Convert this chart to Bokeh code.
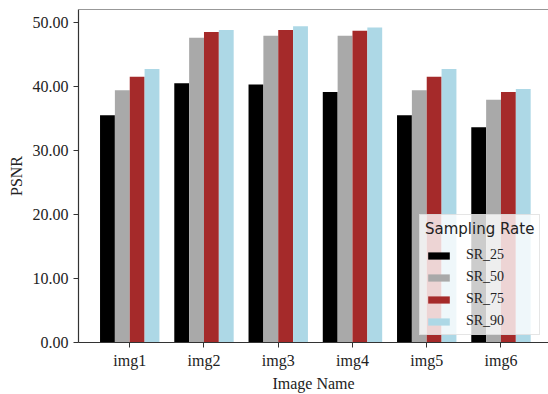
from bokeh.plotting import figure
from bokeh.models import (ColumnDataSource, FixedTicker, Legend, LegendItem, Span,
                          Range1d, PrintfTickFormatter)
from bokeh.transform import dodge
from bokeh.embed import file_html
from bokeh.resources import INLINE

images = ["img1", "img2", "img3", "img4", "img5", "img6"]
sr_25 = [35.5, 40.5, 40.3, 39.1, 35.5, 33.6]
sr_50 = [39.4, 47.6, 47.9, 47.9, 39.4, 37.9]
sr_75 = [41.5, 48.5, 48.8, 48.7, 41.5, 39.1]
sr_90 = [42.7, 48.8, 49.4, 49.2, 42.7, 39.6]
series_names = ["SR_25", "SR_50", "SR_75", "SR_90"]
colors = ["black", "darkgray", "brown", "lightblue"]
y_ticks = [0, 10, 20, 30, 40, 50]

x_idx = list(range(len(images)))
src = ColumnDataSource(dict(x=x_idx, SR_25=sr_25, SR_50=sr_50, SR_75=sr_75, SR_90=sr_90))

p = figure(width=548, height=394, x_range=Range1d(-0.69, 5.64), y_range=Range1d(0, 52),
           toolbar_location=None, output_backend="svg",
           min_border_left=78, min_border_right=0, min_border_top=9, min_border_bottom=50)
p.outline_line_color = None
p.xgrid.visible = False
p.ygrid.visible = False

bar_w = 0.2
offsets = [-0.3, -0.1, 0.1, 0.3]
items = []
for name, c, off in zip(series_names, colors, offsets):
    r = p.vbar(x=dodge("x", off, range=p.x_range), top=name, width=bar_w, source=src,
               fill_color=c, line_color=None)
    items.append(LegendItem(label=name, renderers=[r]))

axis_col = "#333333"
text_col = "#222222"
serif = "Liberation Serif"

p.xaxis.ticker = FixedTicker(ticks=x_idx)
p.xaxis.major_label_overrides = {i: n for i, n in zip(x_idx, images)}
p.yaxis.ticker = FixedTicker(ticks=y_ticks)
p.yaxis.formatter = PrintfTickFormatter(format="%.2f")

for ax in (p.xaxis[0], p.yaxis[0]):
    ax.axis_line_color = axis_col
    ax.axis_line_width = 1.2
    ax.major_tick_line_color = axis_col
    ax.major_tick_out = 5
    ax.major_tick_in = 0
    ax.minor_tick_line_color = None
    ax.major_label_text_font = serif
    ax.major_label_text_font_size = "16px"
    ax.major_label_text_color = text_col
    ax.axis_label_text_font = serif
    ax.axis_label_text_font_size = "16px"
    ax.axis_label_text_font_style = "normal"
    ax.axis_label_text_color = text_col
    ax.major_label_standoff = 5
    ax.axis_label_standoff = 5

p.xaxis.axis_label = "Image Name"
p.yaxis.axis_label = "PSNR"
p.xaxis.major_label_standoff = 4
p.xaxis.axis_label_standoff = 3

p.add_layout(Span(location=52, dimension="width", line_color=axis_col, line_width=1.2))

legend = Legend(items=items, location=(341, 7), title="Sampling Rate",
                title_text_font="DejaVu Sans", title_text_font_size="15px",
                title_text_color=text_col, title_text_font_style="normal",
                label_text_font=serif, label_text_font_size="14px",
                label_text_color=text_col,
                glyph_width=27, glyph_height=9, label_height=14, spacing=6,
                padding=5, title_standoff=9, border_line_color="#cccccc",
                background_fill_alpha=0.8, label_standoff=14)
p.add_layout(legend)

open("out.html", "w").write(file_html(p, INLINE))
